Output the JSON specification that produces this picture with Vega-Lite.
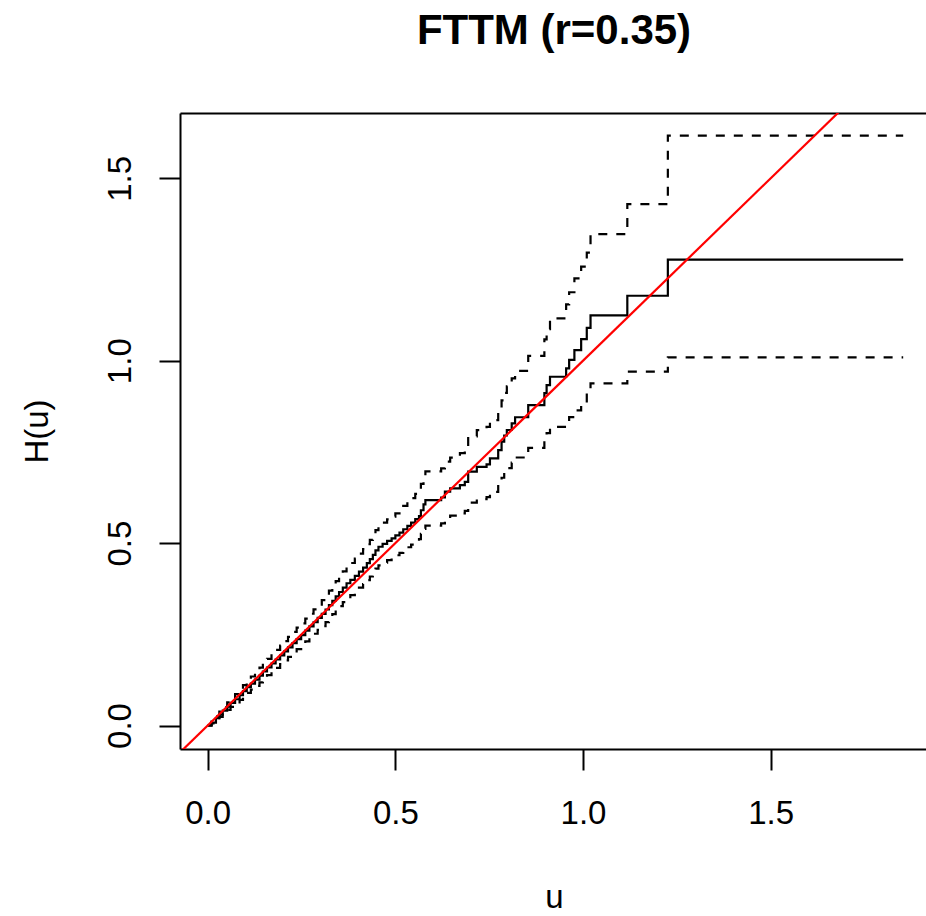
{
  "$schema": "https://vega.github.io/schema/vega-lite/v6.json",
  "width": 746,
  "height": 636,
  "autosize": {"type": "none"},
  "padding": {"left": 180, "top": 113, "right": 0, "bottom": 167},
  "background": "white",
  "title": {"text": "FTTM (r=0.35)", "font": "Liberation Sans", "fontSize": 42, "fontWeight": "bold", "color": "black", "anchor": "middle", "baseline": "top", "offset": 60, "dx": 1},
  "config": {
    "view": {"stroke": null},
    "axis": {"grid": false, "labelFont": "Liberation Sans", "titleFont": "Liberation Sans", "labelColor": "black", "titleColor": "black", "titleFontWeight": "normal", "domainColor": "black", "tickColor": "black"}
  },
  "datasets": {
    "est": [
      {"u":0,"H":0,"lo":0,"hi":0},
      {"u":0.010,"H":0.008,"lo":0.0060,"hi":0.0106},
      {"u":0.022,"H":0.020,"lo":0.0156,"hi":0.0257},
      {"u":0.031,"H":0.030,"lo":0.0238,"hi":0.0378},
      {"u":0.040,"H":0.041,"lo":0.0332,"hi":0.0506},
      {"u":0.052,"H":0.052,"lo":0.0426,"hi":0.0635},
      {"u":0.061,"H":0.062,"lo":0.0513,"hi":0.0750},
      {"u":0.073,"H":0.072,"lo":0.0601,"hi":0.0862},
      {"u":0.085,"H":0.083,"lo":0.0700,"hi":0.0984},
      {"u":0.094,"H":0.094,"lo":0.0797,"hi":0.1108},
      {"u":0.104,"H":0.105,"lo":0.0895,"hi":0.1232},
      {"u":0.115,"H":0.115,"lo":0.0985,"hi":0.1343},
      {"u":0.126,"H":0.126,"lo":0.1085,"hi":0.1464},
      {"u":0.138,"H":0.137,"lo":0.1185,"hi":0.1584},
      {"u":0.147,"H":0.148,"lo":0.1284,"hi":0.1706},
      {"u":0.158,"H":0.159,"lo":0.1382,"hi":0.1829},
      {"u":0.170,"H":0.170,"lo":0.1481,"hi":0.1952},
      {"u":0.181,"H":0.181,"lo":0.1581,"hi":0.2072},
      {"u":0.193,"H":0.192,"lo":0.1683,"hi":0.2191},
      {"u":0.204,"H":0.203,"lo":0.1783,"hi":0.2312},
      {"u":0.214,"H":0.214,"lo":0.1883,"hi":0.2432},
      {"u":0.226,"H":0.226,"lo":0.1992,"hi":0.2564},
      {"u":0.237,"H":0.237,"lo":0.2094,"hi":0.2683},
      {"u":0.249,"H":0.248,"lo":0.2195,"hi":0.2802},
      {"u":0.260,"H":0.260,"lo":0.2306,"hi":0.2932},
      {"u":0.271,"H":0.272,"lo":0.2415,"hi":0.3064},
      {"u":0.282,"H":0.283,"lo":0.2515,"hi":0.3184},
      {"u":0.293,"H":0.295,"lo":0.2624,"hi":0.3316},
      {"u":0.304,"H":0.306,"lo":0.2725,"hi":0.3436},
      {"u":0.314,"H":0.318,"lo":0.2834,"hi":0.3568},
      {"u":0.323,"H":0.330,"lo":0.2944,"hi":0.3699},
      {"u":0.332,"H":0.342,"lo":0.3055,"hi":0.3829},
      {"u":0.341,"H":0.354,"lo":0.3165,"hi":0.3960},
      {"u":0.350,"H":0.366,"lo":0.3272,"hi":0.4094},
      {"u":0.360,"H":0.378,"lo":0.3383,"hi":0.4224},
      {"u":0.370,"H":0.390,"lo":0.3490,"hi":0.4358},
      {"u":0.380,"H":0.399,"lo":0.3574,"hi":0.4454},
      {"u":0.392,"H":0.410,"lo":0.3673,"hi":0.4577},
      {"u":0.403,"H":0.422,"lo":0.3780,"hi":0.4711},
      {"u":0.414,"H":0.433,"lo":0.3879,"hi":0.4834},
      {"u":0.424,"H":0.445,"lo":0.3986,"hi":0.4968},
      {"u":0.432,"H":0.456,"lo":0.4085,"hi":0.5090},
      {"u":0.440,"H":0.468,"lo":0.4192,"hi":0.5224},
      {"u":0.447,"H":0.480,"lo":0.4300,"hi":0.5358},
      {"u":0.455,"H":0.490,"lo":0.4389,"hi":0.5470},
      {"u":0.466,"H":0.498,"lo":0.4461,"hi":0.5559},
      {"u":0.478,"H":0.506,"lo":0.4533,"hi":0.5648},
      {"u":0.490,"H":0.513,"lo":0.4595,"hi":0.5727},
      {"u":0.500,"H":0.521,"lo":0.4667,"hi":0.5816},
      {"u":0.511,"H":0.529,"lo":0.4734,"hi":0.5911},
      {"u":0.521,"H":0.538,"lo":0.4810,"hi":0.6018},
      {"u":0.532,"H":0.547,"lo":0.4886,"hi":0.6124},
      {"u":0.542,"H":0.556,"lo":0.4961,"hi":0.6232},
      {"u":0.553,"H":0.566,"lo":0.5045,"hi":0.6350},
      {"u":0.563,"H":0.574,"lo":0.5111,"hi":0.6446},
      {"u":0.568,"H":0.590,"lo":0.5254,"hi":0.6626},
      {"u":0.575,"H":0.606,"lo":0.5391,"hi":0.6812},
      {"u":0.580,"H":0.618,"lo":0.5481,"hi":0.6968},
      {"u":0.622,"H":0.625,"lo":0.5543,"hi":0.7047},
      {"u":0.632,"H":0.641,"lo":0.5680,"hi":0.7234},
      {"u":0.646,"H":0.650,"lo":0.5753,"hi":0.7344},
      {"u":0.672,"H":0.659,"lo":0.5816,"hi":0.7467},
      {"u":0.685,"H":0.668,"lo":0.5883,"hi":0.7584},
      {"u":0.694,"H":0.696,"lo":0.6112,"hi":0.7926},
      {"u":0.717,"H":0.709,"lo":0.6207,"hi":0.8099},
      {"u":0.743,"H":0.716,"lo":0.6262,"hi":0.8187},
      {"u":0.752,"H":0.732,"lo":0.6402,"hi":0.8370},
      {"u":0.774,"H":0.755,"lo":0.6597,"hi":0.8641},
      {"u":0.783,"H":0.778,"lo":0.6791,"hi":0.8913},
      {"u":0.790,"H":0.795,"lo":0.6932,"hi":0.9117},
      {"u":0.797,"H":0.810,"lo":0.7056,"hi":0.9299},
      {"u":0.810,"H":0.828,"lo":0.7206,"hi":0.9515},
      {"u":0.819,"H":0.845,"lo":0.7346,"hi":0.9720},
      {"u":0.854,"H":0.878,"lo":0.7610,"hi":1.0130},
      {"u":0.897,"H":0.911,"lo":0.7841,"hi":1.0584},
      {"u":0.903,"H":0.933,"lo":0.8014,"hi":1.0862},
      {"u":0.912,"H":0.956,"lo":0.8187,"hi":1.1163},
      {"u":0.955,"H":0.979,"lo":0.8301,"hi":1.1546},
      {"u":0.963,"H":1.002,"lo":0.8454,"hi":1.1877},
      {"u":0.977,"H":1.029,"lo":0.8638,"hi":1.2257},
      {"u":0.995,"H":1.059,"lo":0.883,"hi":1.258},
      {"u":1.010,"H":1.090,"lo":0.915,"hi":1.296},
      {"u":1.020,"H":1.124,"lo":0.938,"hi":1.347},
      {"u":1.118,"H":1.178,"lo":0.970,"hi":1.429},
      {"u":1.226,"H":1.277,"lo":1.009,"hi":1.617},
      {"u":1.853,"H":1.277,"lo":1.009,"hi":1.617}
    ],
    "ref": [
      {"u": -0.2, "H": -0.2},
      {"u": 2.0, "H": 2.0}
    ]
  },
  "layer": [
    {
      "data": {"name": "est"},
      "mark": {"type": "line", "interpolate": "step-after", "color": "black", "strokeWidth": 2.2, "clip": true},
      "encoding": {
        "x": {"field": "u", "type": "quantitative",
          "scale": {"domain": [-0.0738, 1.9138], "nice": false, "zero": false},
          "axis": {"orient": "bottom", "values": [0, 0.5, 1, 1.5], "format": ".1f", "title": "u",
            "tickSize": 21, "tickWidth": 2, "domainWidth": 2, "labelFontSize": 33, "labelBaseline": "alphabetic",
            "labelPadding": 53, "labelFlush": false, "labelOverlap": false, "labelAlign": "center",
            "titleFontSize": 33, "titleX": 374, "titleY": 158, "titleBaseline": "alphabetic", "titleAlign": "center", "titleAngle": 0}},
        "y": {"field": "H", "type": "quantitative",
          "scale": {"domain": [-0.0644, 1.679], "nice": false, "zero": false},
          "axis": {"orient": "left", "values": [0, 0.5, 1, 1.5], "format": ".1f", "title": "H(u)",
            "tickSize": 21, "tickWidth": 2, "domainWidth": 2, "labelFontSize": 33, "labelAngle": 270,
            "labelAlign": "center", "labelBaseline": "alphabetic", "labelPadding": 29, "labelFlush": false, "labelOverlap": false,
            "titleFontSize": 33, "titleAngle": 270, "titleX": -133, "titleY": 318, "titleBaseline": "alphabetic", "titleAlign": "center"}}
      }
    },
    {
      "data": {"name": "est"},
      "mark": {"type": "line", "interpolate": "step-after", "color": "black", "strokeWidth": 2.2, "strokeDash": [9, 9], "strokeCap": "butt", "clip": true},
      "encoding": {
        "x": {"field": "u", "type": "quantitative", "axis": null},
        "y": {"field": "hi", "type": "quantitative", "axis": null}
      }
    },
    {
      "data": {"name": "est"},
      "mark": {"type": "line", "interpolate": "step-after", "color": "black", "strokeWidth": 2.2, "strokeDash": [9, 9], "strokeCap": "butt", "clip": true},
      "encoding": {
        "x": {"field": "u", "type": "quantitative", "axis": null},
        "y": {"field": "lo", "type": "quantitative", "axis": null}
      }
    },
    {
      "data": {"name": "ref"},
      "mark": {"type": "line", "color": "#FF0000", "strokeWidth": 2.2, "clip": true},
      "encoding": {
        "x": {"field": "u", "type": "quantitative",
          "axis": {"orient": "top", "labels": false, "ticks": false, "domain": true, "domainWidth": 2, "title": null}},
        "y": {"field": "H", "type": "quantitative", "axis": null}
      }
    }
  ],
  "resolve": {"axis": {"x": "independent", "y": "independent"}}
}
